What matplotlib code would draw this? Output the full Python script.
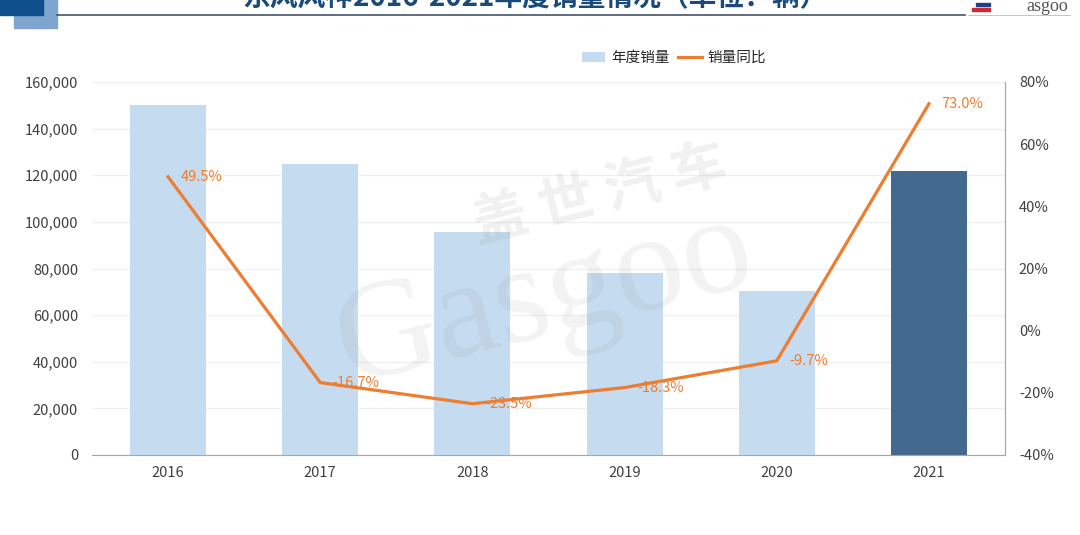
import matplotlib
matplotlib.use("Agg")
import matplotlib.pyplot as plt
from matplotlib.patches import Rectangle, Patch
from matplotlib.lines import Line2D
from matplotlib.ticker import FuncFormatter, MultipleLocator

plt.rcParams['font.family'] = ['Noto Sans CJK SC', 'DejaVu Sans']

years = ['2016', '2017', '2018', '2019', '2020', '2021']
sales = [150000, 125000, 95600, 78100, 70500, 122000]
yoy = [49.5, -16.7, -23.5, -18.3, -9.7, 73.0]
yoy_labels = ['49.5%', '-16.7%', '-23.5%', '-18.3%', '-9.7%', '73.0%']
title = '东风风神2016-2021年度销量情况（单位：辆）'

light_blue = '#C5DCF0'
dark_blue = '#44698F'
orange = '#ED7D31'
tick_col = '#404040'

fig = plt.figure(figsize=(10.8, 5.35), dpi=100)
W, H = 1080, 535

# header decorations
fig.patches.append(Rectangle((14 / W, 1 - 28 / H), 43 / W, 28 / H, transform=fig.transFigure,
                             color='#7DA5CF', zorder=1))
fig.patches.append(Rectangle((0, 1 - 15 / H), 43 / W, 15 / H, transform=fig.transFigure,
                             color='#0E4F8B', zorder=2))
fig.add_artist(Line2D([57 / W, 965 / W], [1 - 15 / H, 1 - 15 / H], transform=fig.transFigure,
                      color='#44546A', lw=1.2))
fig.add_artist(Line2D([968 / W, 1070 / W], [1 - 15 / H, 1 - 15 / H], transform=fig.transFigure,
                      color='#BBBBBB', lw=0.6))
fig.text(535 / W, 1 - 5 / H, title, ha='center', va='baseline', fontsize=20,
         fontweight='bold', color='#1A4A7A')
fig.text(1068 / W, 1 - 11 / H, 'asgoo', ha='right', va='baseline', fontsize=13,
         color='#555555', family='Liberation Serif')
fig.patches.append(Rectangle((972 / W, 1 - 11 / H), 18 / W, 3 / H, transform=fig.transFigure,
                             color='#D22630'))
fig.patches.append(Rectangle((976 / W, 1 - 6 / H), 14 / W, 3 / H, transform=fig.transFigure,
                             color='#1F3F8F'))

ax = fig.add_axes([92 / W, 1 - 455 / H, (1005 - 92) / W, (455 - 82) / H])
x = list(range(len(years)))
colors = [light_blue] * (len(years) - 1) + [dark_blue]
ax.bar(x, sales, width=0.5, color=colors, zorder=2)
ax.set_xlim(-0.5, 5.5)
ax.set_ylim(0, 160000)
ax.yaxis.set_major_locator(MultipleLocator(20000))
ax.yaxis.set_major_formatter(FuncFormatter(lambda v, p: f'{int(v):,}'))
ax.set_xticks(x)
ax.set_xticklabels(years)
ax.grid(axis='y', color='#EFEFEF', lw=0.9, zorder=0)
ax.set_axisbelow(True)
for s in ['top', 'left']:
    ax.spines[s].set_visible(False)
ax.spines['bottom'].set_color('#A6A6A6')
ax.spines['right'].set_color('#A6A6A6')
ax.tick_params(axis='both', length=0, labelsize=10.5, colors=tick_col, pad=8)
ax.tick_params(axis='y', pad=10)

ax2 = ax.twinx()
ax2.plot(x, yoy, color=orange, lw=2.3, zorder=5)
ax2.set_ylim(-40, 80)
ax2.yaxis.set_major_locator(MultipleLocator(20))
ax2.yaxis.set_major_formatter(FuncFormatter(lambda v, p: f'{int(v)}%'))
for s in ['top', 'left', 'bottom']:
    ax2.spines[s].set_visible(False)
ax2.spines['right'].set_color('#A6A6A6')
ax2.tick_params(axis='y', length=0, labelsize=10.5, colors=tick_col, pad=10)
for xi, v, lab in zip(x, yoy, yoy_labels):
    ax2.annotate(lab, (xi, v), xytext=(9, 0), textcoords='offset points',
                 ha='left', va='center', fontsize=10.5, color=orange, zorder=6)

# watermark
fig.text(600 / W, 1 - 195 / H, '盖 世 汽 车', ha='center', va='center', fontsize=40,
         fontweight='bold', color='#888888', alpha=0.12, rotation=14)
fig.text(545 / W, 1 - 300 / H, 'Gasgoo', ha='center', va='center', fontsize=100,
         color='#888888', alpha=0.10, rotation=14, family='Liberation Serif')

handles = [Patch(facecolor=light_blue, edgecolor='none'),
           Line2D([0], [0], color=orange, lw=2.3)]
fig.legend(handles, ['年度销量', '销量同比'], loc='center', bbox_to_anchor=(674 / W, 1 - 58 / H),
           ncol=2, frameon=False, fontsize=10.5, handlelength=1.6, handleheight=0.7,
           columnspacing=0.6, handletextpad=0.4, labelcolor='#262626')

fig.savefig('out.png', dpi=100)
